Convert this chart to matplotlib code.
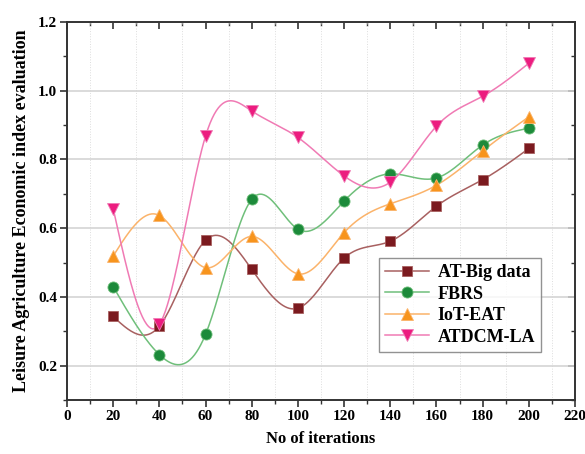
import numpy as np
import matplotlib.pyplot as plt
from matplotlib.ticker import MultipleLocator

iterations = [20, 40, 60, 80, 100, 120, 140, 160, 180, 200]
at_big_data = [0.343, 0.315, 0.565, 0.480, 0.367, 0.513, 0.562, 0.664, 0.741, 0.832]
fbrs = [0.430, 0.232, 0.291, 0.684, 0.597, 0.679, 0.758, 0.746, 0.842, 0.891]
iot_eat = [0.519, 0.637, 0.485, 0.576, 0.467, 0.587, 0.671, 0.725, 0.825, 0.924]
atdcm_la = [0.657, 0.320, 0.868, 0.941, 0.864, 0.752, 0.734, 0.897, 0.984, 1.080]

labels = ['AT-Big data', 'FBRS', 'IoT-EAT', 'ATDCM-LA']
marker_cols = ['#7b1a1f', '#1c8a3a', '#f7941d', '#ec1c7f']
line_cols = ['#a86060', '#6fbf7a', '#fbb36a', '#f07ab4']
markers = ['s', 'o', '^', 'v']
msizes = [7, 8, 9, 9]


def natural_spline(x, y, n=400):
    # natural cubic spline through the points
    x = np.asarray(x, float)
    y = np.asarray(y, float)
    k = len(x)
    h = np.diff(x)
    A = np.zeros((k, k))
    b = np.zeros(k)
    A[0, 0] = 1
    A[-1, -1] = 1
    for i in range(1, k - 1):
        A[i, i - 1] = h[i - 1]
        A[i, i] = 2 * (h[i - 1] + h[i])
        A[i, i + 1] = h[i]
        b[i] = 3 * ((y[i + 1] - y[i]) / h[i] - (y[i] - y[i - 1]) / h[i - 1])
    c = np.linalg.solve(A, b)
    xs = np.linspace(x[0], x[-1], n)
    ys = np.zeros(n)
    for j, t in enumerate(xs):
        i = min(np.searchsorted(x, t, side='right') - 1, k - 2)
        dx = t - x[i]
        bb = (y[i + 1] - y[i]) / h[i] - h[i] * (2 * c[i] + c[i + 1]) / 3
        d = (c[i + 1] - c[i]) / (3 * h[i])
        ys[j] = y[i] + bb * dx + c[i] * dx ** 2 + d * dx ** 3
    return xs, ys


plt.rcParams['font.family'] = ['Liberation Serif', 'DejaVu Serif']
plt.rcParams['font.weight'] = 'bold'

fig = plt.figure(figsize=(5.85, 4.54), dpi=100)
ax = fig.add_axes([0.1145, 0.119, 0.8685, 0.8325])

series = [at_big_data, fbrs, iot_eat, atdcm_la]
for vals, lab, mc, lc, m, ms in zip(series, labels, marker_cols, line_cols, markers, msizes):
    xs, ys = natural_spline(iterations, vals)
    ax.plot(xs, ys, color=lc, lw=1.1, zorder=2)
    ax.plot(iterations, vals, linestyle='none', marker=m, ms=ms, color=mc,
            markeredgecolor=lc, markeredgewidth=0.6, zorder=3)
    # legend proxy
    ax.plot([], [], color=lc, lw=1.1, marker=m, ms=ms, markerfacecolor=mc,
            markeredgecolor=lc, markeredgewidth=0.6, label=lab)

ax.set_xlim(0, 220)
ax.set_ylim(0.1, 1.2)
ax.xaxis.set_major_locator(MultipleLocator(20))
ax.xaxis.set_minor_locator(MultipleLocator(10))
ax.yaxis.set_major_locator(MultipleLocator(0.2))
ax.yaxis.set_minor_locator(MultipleLocator(0.1))
ax.set_yticks([0.2, 0.4, 0.6, 0.8, 1.0, 1.2])
ax.set_yticklabels(['0.2', '0.4', '0.6', '0.8', '1.0', '1.2'])

ax.grid(axis='y', which='major', color='#d4d4d4', lw=1.2, zorder=0)
ax.grid(axis='x', which='minor', color='#dddddd', lw=0.7, ls=':', zorder=0)
ax.set_axisbelow(True)

for s in ax.spines.values():
    s.set_color('#333333')
    s.set_linewidth(1.4)

ax.tick_params(which='major', direction='out', length=5, width=1.2, labelsize=11,
               color='#333333', pad=2)
ax.tick_params(which='minor', direction='out', length=3, width=1.0, color='#333333')

top = ax.secondary_xaxis('top')
top.xaxis.set_major_locator(MultipleLocator(20))
top.xaxis.set_minor_locator(MultipleLocator(10))
top.tick_params(which='major', direction='in', length=5, width=1.2, labeltop=False, color='#333333')
top.tick_params(which='minor', direction='in', length=3, width=1.0, color='#333333')
top.spines['top'].set_visible(False)

right = ax.secondary_yaxis('right')
right.yaxis.set_major_locator(MultipleLocator(0.2))
right.yaxis.set_minor_locator(MultipleLocator(0.1))
right.tick_params(which='major', direction='in', length=5, width=1.2, labelright=False, color='#333333')
right.tick_params(which='minor', direction='in', length=3, width=1.0, color='#333333')
right.spines['right'].set_visible(False)

ax.set_xlabel('No of iterations', fontsize=12, fontweight='bold', labelpad=6)
ax.set_ylabel('Leisure Agriculture Economic index evaluation', fontsize=13, fontweight='bold', labelpad=6)

leg = ax.legend(loc='upper left', bbox_to_anchor=(0.614, 0.376), fontsize=13, frameon=True,
                fancybox=False, edgecolor='#777777', handlelength=2.4, borderpad=0.35,
                labelspacing=0.25, handletextpad=0.5, borderaxespad=0)
leg.get_frame().set_linewidth(1.0)
for t in leg.get_texts():
    t.set_fontweight('bold')

fig.savefig('out.png', dpi=100)
